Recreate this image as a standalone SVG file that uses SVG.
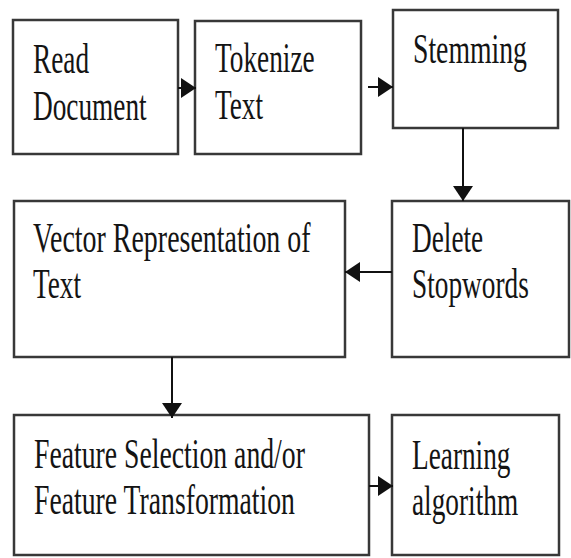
<svg xmlns="http://www.w3.org/2000/svg" width="571" height="558" viewBox="0 0 571 558">
<style>
.box{fill:#fff;stroke:#383838;stroke-width:2.5}
.lbl{font-family:"Liberation Serif","Times New Roman",serif;font-size:42px;fill:#141414}
.con{stroke:#111;stroke-width:2;fill:none;marker-end:url(#ah)}
</style>
<defs>
<marker id="ah" markerUnits="userSpaceOnUse" markerWidth="15" markerHeight="20" refX="15" refY="10" orient="auto">
<path d="M0,0 L15,10 L0,20 Z" fill="#111"/>
</marker>
</defs>
<rect width="571" height="558" fill="#fff"/>
<g id="read">
<rect class="box" x="13" y="20" width="165" height="134"/>
<text class="lbl" transform="matrix(0.65 0 0 1 33 73)">Read</text>
<text class="lbl" transform="matrix(0.65 0 0 1 33 120)">Document</text>
</g>
<g id="tokenize">
<rect class="box" x="195" y="21" width="166" height="133"/>
<text class="lbl" transform="matrix(0.65 0 0 1 215 72)">Tokenize</text>
<text class="lbl" transform="matrix(0.65 0 0 1 215 119)">Text</text>
</g>
<g id="stemming">
<rect class="box" x="393" y="10" width="165" height="118"/>
<text class="lbl" transform="matrix(0.66 0 0 1 413 63)">Stemming</text>
</g>
<g id="vector">
<rect class="box" x="14" y="201" width="331" height="156"/>
<text class="lbl" transform="matrix(0.665 0 0 1 33 252)">Vector Representation of</text>
<text class="lbl" transform="matrix(0.65 0 0 1 33 298)">Text</text>
</g>
<g id="delete">
<rect class="box" x="392" y="201" width="177" height="156"/>
<text class="lbl" transform="matrix(0.65 0 0 1 412 252)">Delete</text>
<text class="lbl" transform="matrix(0.65 0 0 1 412 298)">Stopwords</text>
</g>
<g id="feature">
<rect class="box" x="14" y="415" width="355" height="140"/>
<text class="lbl" transform="matrix(0.66 0 0 1 34 468)">Feature Selection and/or</text>
<text class="lbl" transform="matrix(0.66 0 0 1 34 514)">Feature Transformation</text>
</g>
<g id="learning">
<rect class="box" x="392" y="415" width="167" height="140"/>
<text class="lbl" transform="matrix(0.65 0 0 1 412 469)">Learning</text>
<text class="lbl" transform="matrix(0.65 0 0 1 412 515)">algorithm</text>
</g>
<g id="connectors">
<line class="con" x1="178" y1="88" x2="196" y2="88"/>
<line class="con" x1="368" y1="87" x2="393" y2="87"/>
<line class="con" x1="463" y1="128" x2="463" y2="201"/>
<line class="con" x1="392" y1="272" x2="345" y2="272"/>
<line class="con" x1="172" y1="357" x2="172" y2="418"/>
<line class="con" x1="369" y1="486" x2="393" y2="486"/>
</g>
</svg>
